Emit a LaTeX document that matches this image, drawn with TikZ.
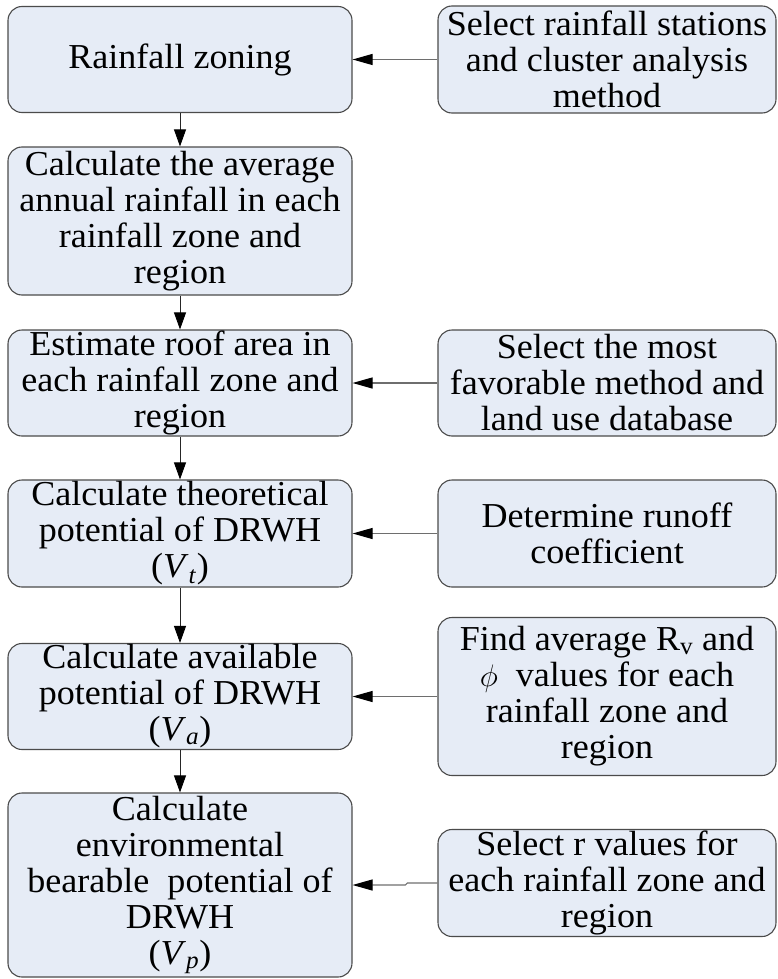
\documentclass[tikz,border=0pt]{standalone}
\usepackage{fontspec}
\setmainfont{Liberation Serif}[FakeStretch=1.03]
\usepackage{graphicx}
\usetikzlibrary{arrows.meta}
\definecolor{boxfill}{RGB}{230,236,246}
\definecolor{boxline}{RGB}{75,75,75}
\definecolor{sidelink}{RGB}{110,110,110}
\newcommand{\wphi}{\scalebox{1.25}{$\phi$}}
\begin{document}
\begin{tikzpicture}[x=1pt,y=-1pt,
  stepbox/.style={draw=boxline, line width=1.1pt, fill=boxfill,
    rounded corners=14pt, align=center, inner sep=0pt,
    font=\fontsize{35}{36}\selectfont},
  leftbox/.style={stepbox, minimum width=344pt},
  rightbox/.style={stepbox, minimum width=338pt},
  down/.style={draw=black!85, line width=0.9pt,
    -{Triangle[length=17pt,width=12pt,black]}},
  side/.style={draw=sidelink, line width=1.1pt,
    -{Triangle[length=20pt,width=11pt,black]}}]
\useasboundingbox (0,0) rectangle (777,979);

% main chain of steps
\node[leftbox, minimum height=106pt] (L1) at (180,59.5) {Rainfall zoning};
\node[leftbox, minimum height=148pt] (L2) at (180,221) {Calculate the average\\annual rainfall in each\\rainfall zone and\\region};
\node[leftbox, minimum height=106pt] (L3) at (180,383) {Estimate roof area in\\each rainfall zone and\\region};
\node[leftbox, minimum height=107pt] (L4) at (180,533.5) {Calculate theoretical\\potential of DRWH\\(\textit{V}\textsubscript{\textit{t}})};
\node[leftbox, minimum height=106pt] (L5) at (180,696.5) {Calculate available\\potential of DRWH\\(\textit{V}\textsubscript{\textit{a}})};
\node[leftbox, minimum height=184pt] (L6) at (180,885) {Calculate\\environmental\\bearable\ \ potential of\\DRWH\\(\textit{V}\textsubscript{\textit{p}})};

% inputs on the right
\node[rightbox, minimum height=107pt] (R1) at (607,59.5) {Select rainfall stations\\and cluster analysis\\method};
\node[rightbox, minimum height=106pt] (R3) at (607,383) {Select the most\\favorable method and\\land use database};
\node[rightbox, minimum height=107pt] (R4) at (607,533.5) {Determine runoff\\coefficient};
\node[rightbox, minimum height=158pt] (R5) at (607,696.5) {Find average R\textsubscript{v} and\\\wphi\hspace{18pt}values for each\hspace*{40pt}\\rainfall zone and\\region};
\node[rightbox, minimum height=107pt] (R6) at (607,883) {Select r values for\\each rainfall zone and\\region};

% flow down the chain
\draw[down] (L1) -- (L2);
\draw[down] (L2) -- (L3);
\draw[down] (L3) -- (L4);
\draw[down] (L4) -- (L5);
\draw[down] (L5) -- (L6);

% inputs feeding the chain
\draw[side] (R1) -- (L1);
\draw[side] (R3) -- (L3);
\draw[side] (R4) -- (L4);
\draw[side] (R5) -- (L5);
\draw[side] (R6.west) -- ++(-30,0) -- ++(-2,2) -- (L6.east);
\end{tikzpicture}
\end{document}
